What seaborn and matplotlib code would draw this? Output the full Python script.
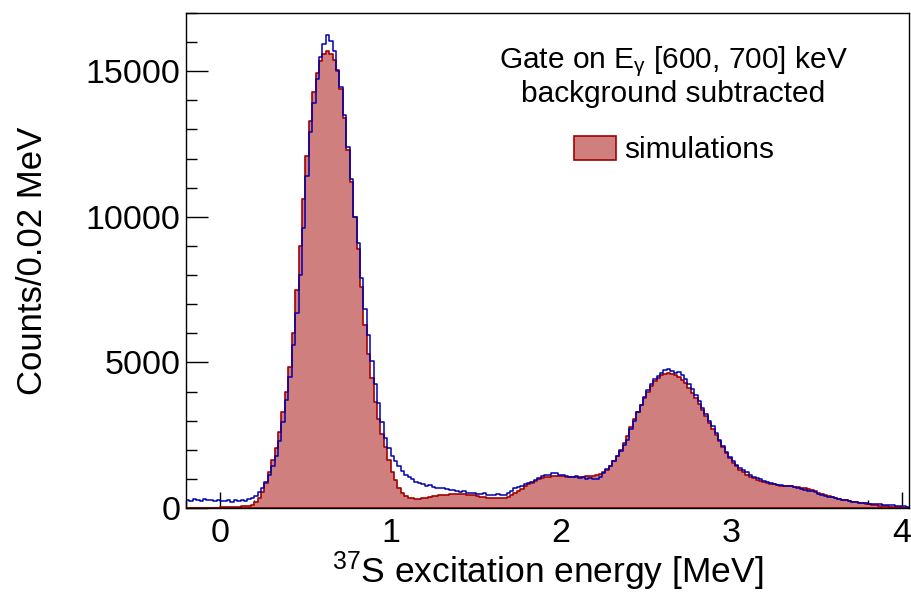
import numpy as np
import pandas as pd
import seaborn as sns
import matplotlib.pyplot as plt
from matplotlib.patches import Patch
from matplotlib.ticker import MultipleLocator

# Histogram binning: 0.02 MeV bins from -0.2 to 4.04 MeV
bin_width = 0.02
e_min, e_max = -0.2, 4.04

# Measured spectrum (counts per 0.02 MeV), gated on E_gamma 600-700 keV, background subtracted
data_counts = [
    290, 250, 310, 270, 230, 300, 260, 280, 240, 270,
    250, 230, 290, 210, 260, 240, 280, 230, 300, 340,
    420, 560, 700, 900, 1150, 1450, 1800, 2300, 2950, 3700,
    4500, 5600, 6700, 8000, 9600, 11400, 12900, 13900, 14750, 15500,
    15950, 16250, 16050, 15700, 15050, 14450, 13500, 12400, 11300, 10000,
    9100, 7900, 6850, 5950, 5050, 4250, 3600, 2950, 2400, 2050,
    1800, 1620, 1450, 1280, 1150, 1050, 980, 900, 860, 830,
    760, 780, 720, 700, 690, 680, 640, 610, 630, 580,
    560, 570, 520, 510, 530, 480, 470, 500, 450, 460,
    440, 470, 430, 450, 520, 600, 680, 720, 760, 830,
    860, 900, 960, 1040, 1100, 1150, 1130, 1200, 1190, 1150,
    1120, 1100, 1080, 1060, 1090, 1030, 1050, 1010, 1040, 990,
    1000, 1060, 1200, 1340, 1450, 1600, 1800, 1950, 2150, 2350,
    2700, 3000, 3300, 3550, 3800, 4050, 4250, 4420, 4550, 4650,
    4730, 4780, 4700, 4620, 4680, 4560, 4420, 4250, 4080, 3880,
    3680, 3430, 3220, 3000, 2800, 2560, 2340, 2120, 1940, 1760,
    1600, 1480, 1380, 1310, 1220, 1140, 1080, 1030, 980, 920,
    900, 870, 840, 800, 790, 770, 760, 740, 730, 690,
    650, 630, 600, 570, 540, 470, 440, 420, 390, 370,
    340, 310, 280, 260, 240, 220, 200, 185, 170, 160,
    150, 140, 135, 125, 120, 115, 105, 95, 85, 70,
    60, 50,
]

# Simulated spectrum (counts per 0.02 MeV)
sim_counts = [
    0, 0, 0, 0, 0, 0, 0, 0, 0, 15,
    20, 25, 30, 35, 40, 45, 55, 65, 75, 100,
    200, 330, 550, 850, 1250, 1650, 2050, 2600, 3300, 4000,
    4850, 6000, 7500, 9000, 10600, 12100, 13300, 14300, 14950, 15350,
    15600, 15700, 15600, 15400, 15000, 14400, 13400, 12300, 11200, 10000,
    8900, 7600, 6300, 5300, 4450, 3650, 3050, 2550, 2100, 1650,
    1250, 950, 700, 520, 420, 360, 330, 320, 320, 330,
    340, 370, 400, 420, 440, 450, 460, 470, 480, 480,
    480, 470, 460, 450, 430, 410, 390, 370, 350, 340,
    330, 330, 330, 340, 380, 430, 500, 580, 660, 740,
    810, 870, 930, 980, 1030, 1060, 1080, 1100, 1100, 1100,
    1090, 1080, 1080, 1070, 1070, 1080, 1080, 1090, 1100, 1110,
    1140, 1180, 1240, 1320, 1450, 1620, 1800, 2000, 2220, 2480,
    2780, 3050, 3300, 3550, 3780, 4000, 4200, 4350, 4470, 4560,
    4600, 4620, 4600, 4560, 4500, 4400, 4280, 4120, 3960, 3780,
    3580, 3370, 3150, 2930, 2720, 2500, 2290, 2080, 1880, 1710,
    1560, 1430, 1320, 1230, 1150, 1080, 1020, 970, 930, 890,
    860, 830, 810, 790, 770, 760, 750, 740, 730, 710,
    690, 670, 640, 610, 570, 530, 490, 450, 410, 380,
    350, 320, 290, 260, 240, 215, 195, 175, 160, 145,
    130, 115, 100, 85, 70, 60, 50, 40, 30, 20,
    10, 5,
]

x_ticks = [0, 1, 2, 3, 4]
y_ticks = [0, 5000, 10000, 15000]

edges = np.round(np.linspace(e_min, e_max, len(data_counts) + 1), 4)
centers = 0.5 * (edges[:-1] + edges[1:])
df = pd.DataFrame({"E": centers, "data": data_counts, "sim": sim_counts})
bin_edges = edges.tolist()

sns.set_theme(style="ticks")
plt.rcParams["font.family"] = ["Liberation Sans", "DejaVu Sans"]
plt.rcParams["mathtext.fontset"] = "custom"
plt.rcParams["mathtext.rm"] = "Liberation Sans"
plt.rcParams["mathtext.it"] = "Liberation Sans:italic"
plt.rcParams["mathtext.default"] = "rm"
plt.rcParams["text.color"] = "black"
plt.rcParams["axes.labelcolor"] = "black"

fig = plt.figure(figsize=(9.12, 5.93), dpi=100)
ax = fig.add_axes([186 / 912, 1 - 508 / 593, (909 - 186) / 912, (508 - 13) / 593])

fill_color = "#d07f7f"
sim_edge = "#a30000"
data_color = "#0000b0"

sns.histplot(data=df, x="E", weights="sim", bins=bin_edges, element="step",
             fill=True, color=fill_color, edgecolor=sim_edge, linewidth=1.2,
             alpha=1, ax=ax)
sns.histplot(data=df, x="E", weights="data", bins=bin_edges, element="step",
             fill=False, color=data_color, linewidth=1.1, ax=ax)

ax.set_xlim(e_min, e_max)
ax.set_ylim(0, 17000)
ax.set_xticks(x_ticks)
ax.set_xticklabels([str(t) for t in x_ticks])
ax.set_yticks(y_ticks)
ax.set_yticklabels([str(t) for t in y_ticks])
ax.xaxis.set_minor_locator(MultipleLocator(0.2))
ax.yaxis.set_minor_locator(MultipleLocator(1000))

ax.tick_params(axis="x", which="major", direction="in", length=11.5, width=1,
               labelsize=24.5, pad=7, colors="black")
ax.tick_params(axis="x", which="minor", direction="in", length=5.5, width=1,
               colors="black")
ax.tick_params(axis="y", which="major", direction="in", length=16, width=1,
               labelsize=24.5, pad=4, colors="black")
ax.tick_params(axis="y", which="minor", direction="in", length=8, width=1,
               colors="black")
for side in ax.spines.values():
    side.set_color("black")
    side.set_linewidth(1)

ax.set_xlabel("$^{37}$S excitation energy [MeV]", fontsize=25.5, color="black")
ax.set_ylabel("Counts/0.02 MeV", fontsize=25, color="black")
ax.xaxis.set_label_coords(0.5, -0.084)
ax.yaxis.set_label_coords(-0.19, 0.5)

fig.text(673 / 912, 1 - 68 / 593, "Gate on E$_{\\gamma}$ [600, 700] keV",
         ha="center", va="baseline", fontsize=21.5, color="black")
fig.text(673 / 912, 1 - 102 / 593, "background subtracted",
         ha="center", va="baseline", fontsize=21.5, color="black")

handle = Patch(facecolor=fill_color, edgecolor=sim_edge, linewidth=1.2)
ax.legend([handle], ["simulations"], loc="center left",
          bbox_to_anchor=(574 / 912, 1 - 150 / 593), bbox_transform=fig.transFigure,
          frameon=False, fontsize=21.5, handlelength=1.41, handleheight=0.9,
          handletextpad=0.27, borderpad=0, borderaxespad=0, labelcolor="black")

fig.savefig("out.png", dpi=100, facecolor="white")
